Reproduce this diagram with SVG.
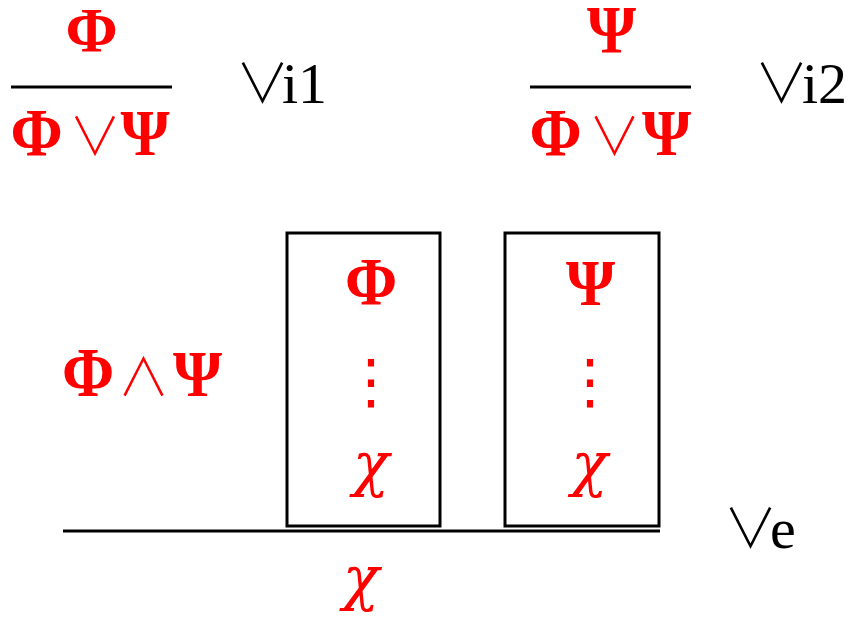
<svg xmlns="http://www.w3.org/2000/svg" width="856" height="618" viewBox="0 0 856 618">
<style>
.g{font-family:"Liberation Serif","Times New Roman",serif;font-weight:bold;font-size:63px;fill:#ff0000;text-anchor:middle}
.c{font-family:"DejaVu Serif",serif;font-style:italic;font-size:60px;fill:#ff0000;text-anchor:middle}
.op{font-family:"Noto Sans CJK SC","DejaVu Sans",sans-serif;font-weight:300;font-size:54px}
.opf{font-family:"Noto Sans CJK SC","DejaVu Sans",sans-serif;font-weight:300;font-size:52px;fill:#ff0000;text-anchor:middle}
.tight{letter-spacing:-12px}
.dots{font-family:"Noto Sans CJK SC","DejaVu Sans",sans-serif;font-size:60px;font-weight:500;fill:#ff0000;text-anchor:middle}
.lbl{font-family:"Liberation Serif","Times New Roman",serif;font-size:58px;fill:#000}
.ln{stroke:#000;stroke-width:3;fill:none}
.box{stroke:#000;stroke-width:3;fill:none}
</style>
<rect width="856" height="618" fill="#fff"/>
<g id="connectors">
<line class="ln" x1="11" y1="87" x2="172" y2="87"/>
<line class="ln" x1="530" y1="87" x2="691" y2="87"/>
<line class="ln" x1="63" y1="531" x2="660" y2="531"/>
</g>
<g id="vi1-premise"><text class="g" transform="translate(91.5,52) scale(1,1.02)">Φ</text></g>
<g id="vi1-conclusion">
<text class="g" transform="translate(36.5,155) scale(1,1.06)">Φ</text>
<text class="opf" x="95" y="155">∨</text>
<text class="g" transform="translate(145,155) scale(1,1.05)">Ψ</text>
</g>
<g id="vi1-label"><text class="lbl" y="103"><tspan class="op tight" x="235.6">∨</tspan><tspan x="282">i1</tspan></text></g>
<g id="vi2-premise"><text class="g" transform="translate(611.5,52) scale(1,1.08)">Ψ</text></g>
<g id="vi2-conclusion">
<text class="g" transform="translate(555.5,155) scale(1,1.06)">Φ</text>
<text class="opf" x="614.5" y="155">∨</text>
<text class="g" transform="translate(666.5,155) scale(1,1.05)">Ψ</text>
</g>
<g id="vi2-label"><text class="lbl" y="103"><tspan class="op tight" x="754.6">∨</tspan><tspan x="802">i2</tspan></text></g>
<g id="ve-premise">
<text class="g" transform="translate(88,396) scale(1,1.1)">Φ</text>
<text class="opf" x="143.5" y="396">∧</text>
<text class="g" transform="translate(197.5,396) scale(1,1.05)">Ψ</text>
</g>
<g id="box1">
<rect class="box" x="287" y="233" width="153" height="293"/>
<text class="g" transform="translate(371,304) scale(1,1.08)">Φ</text>
<text class="dots" x="371" y="402">⋮</text>
<text class="c" x="371" y="485">χ</text>
</g>
<g id="box2">
<rect class="box" x="505" y="233" width="154" height="293"/>
<text class="g" transform="translate(590.5,305) scale(1,1.05)">Ψ</text>
<text class="dots" x="590" y="402">⋮</text>
<text class="c" x="589.5" y="485">χ</text>
</g>
<g id="ve-conclusion"><text class="c" x="361" y="599">χ</text></g>
<g id="ve-label"><text class="lbl" y="548"><tspan class="op tight" x="723.6">∨</tspan><tspan x="770">e</tspan></text></g>
</svg>
